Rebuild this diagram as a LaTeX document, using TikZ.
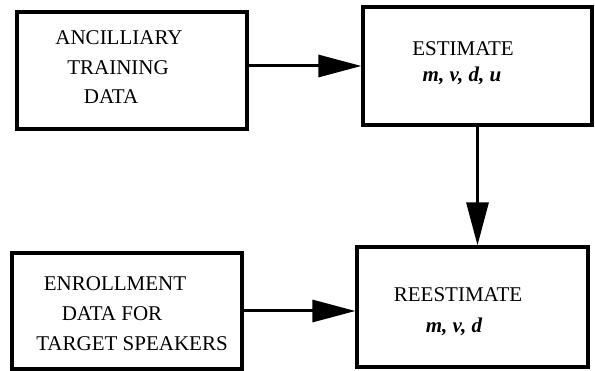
\documentclass[tikz,border=0pt]{standalone}
\usepackage{fontspec}
\setmainfont{Liberation Serif}
\usetikzlibrary{arrows.meta}
\begin{document}
\begin{tikzpicture}[x=1pt,y=-1pt,
  box/.style={draw, line width=3.2pt, rectangle, inner sep=0pt},
  lbl/.style={anchor=base, inner sep=0pt, font=\fontsize{21}{25}\selectfont},
  var/.style={lbl, font=\fontsize{21}{25}\selectfont\bfseries\itshape},
  arr/.style={line width=3pt, -{Triangle[length=43pt,width=22pt]}}]
\useasboundingbox (0,0) rectangle (595,371);
% boxes
\node[box, minimum width=230pt, minimum height=117pt] (anc) at (132,70.5) {};
\node[box, minimum width=229pt, minimum height=118pt] (est) at (477.5,66) {};
\node[box, minimum width=230pt, minimum height=116pt] (enr) at (127,311) {};
\node[box, minimum width=231pt, minimum height=120pt] (rest) at (472.5,307) {};
% texts
\node[lbl] (t1) at (119,45) {ANCILLIARY};
\node[lbl] (t2) at (118,74.5) {TRAINING};
\node[lbl] (t3) at (111,104) {DATA};
\node[lbl] (t4) at (463,56) {ESTIMATE};
\node[var] (t5) at (462,82) {m, v, d, u};
\node[lbl] (t6) at (115,291) {ENROLLMENT};
\node[lbl] (t7) at (112,320.5) {DATA FOR};
\node[lbl] (t8) at (132,350.5) {TARGET SPEAKERS};
\node[lbl] (t9) at (458,302) {REESTIMATE};
\node[var] (t10) at (454,333) {m, v, d};
% connectors
\draw[arr] (anc.east |- est.west) -- (est.west);
\draw[arr] (enr.east) -- (enr.east -| rest.west);
\draw[arr] (est.south) -- (est.south |- rest.north);
\end{tikzpicture}
\end{document}
